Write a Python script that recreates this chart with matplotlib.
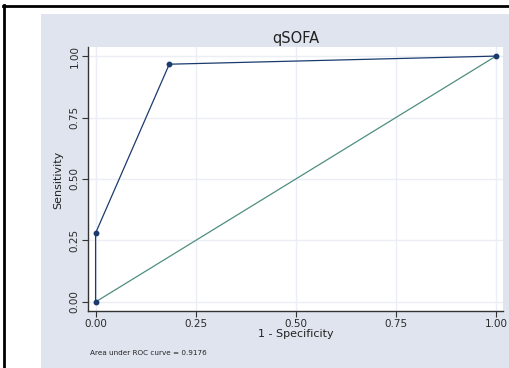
import matplotlib
matplotlib.use("Agg")
import matplotlib.pyplot as plt
from matplotlib.patches import Rectangle
from matplotlib.lines import Line2D

# Data
fpr = [0.0, 0.0, 0.184, 1.0]
tpr = [0.0, 0.28, 0.967, 1.0]
ref = [0.0, 1.0]
ticks = [0.0, 0.25, 0.5, 0.75, 1.0]
tick_labels = ["0.00", "0.25", "0.50", "0.75", "1.00"]
title = "qSOFA"
xlabel = "1 - Specificity"
ylabel = "Sensitivity"
auc_text = "Area under ROC curve = 0.9176"

W, H = 509, 368
fig = plt.figure(figsize=(W / 100, H / 100), dpi=100)
fig.patch.set_facecolor("white")

bg = "#DFE4EE"
# background panel
fig.patches.append(Rectangle((41 / W, 0), 1 - 41 / W, 1 - 14 / H,
                             transform=fig.transFigure, facecolor=bg,
                             edgecolor="none", zorder=-10))
# black border lines (left & top)
fig.add_artist(Line2D([4 / W, 4 / W], [0, 1 - 5 / H], transform=fig.transFigure,
                      color="black", lw=2))
fig.add_artist(Line2D([3 / W, 1], [1 - 6 / H, 1 - 6 / H], transform=fig.transFigure,
                      color="black", lw=2))

ax = fig.add_axes([88 / W, 1 - 311 / H, (503 - 88) / W, (311 - 47) / H])
ax.set_zorder(5)
ax.set_facecolor("white")
ax.set_xlim(-0.019, 1.0175)
ax.set_ylim(-0.037, 1.037)

ax.grid(True, color="#EBEEF5", lw=1.0, zorder=0)
ax.set_axisbelow(True)

ax.plot(ref, ref, color="#4E8E80", lw=0.9, zorder=2)
ax.plot(fpr, tpr, color="#1B3B6F", lw=0.9, marker="o", ms=3.2, zorder=3)

for s in ["top", "right"]:
    ax.spines[s].set_visible(False)
for s in ["left", "bottom"]:
    ax.spines[s].set_color("#333333")
    ax.spines[s].set_linewidth(1.0)

ax.set_xticks(ticks)
ax.set_xticklabels(tick_labels)
ax.set_yticks(ticks)
ax.set_yticklabels(tick_labels, rotation=90, va="center")
ax.tick_params(axis="both", direction="out", length=4, width=0.8,
               colors="#333333", labelsize=7.5, pad=2)
ax.tick_params(axis="both", labelcolor="#2a2a2a")

ax.set_title(title, fontsize=10.5, color="#222222", pad=3)
ax.set_xlabel(xlabel, fontsize=8, color="#222222", labelpad=0)
ax.set_ylabel(ylabel, fontsize=8, color="#222222", va="center")
ax.yaxis.set_label_coords((58 - 88) / 415, (311 - 180) / 264)

fig.text(90 / W, 1 - 353 / H, auc_text, fontsize=5.2, color="#222222",
         va="center", ha="left")

fig.savefig("out.png", dpi=100, facecolor=fig.get_facecolor())
